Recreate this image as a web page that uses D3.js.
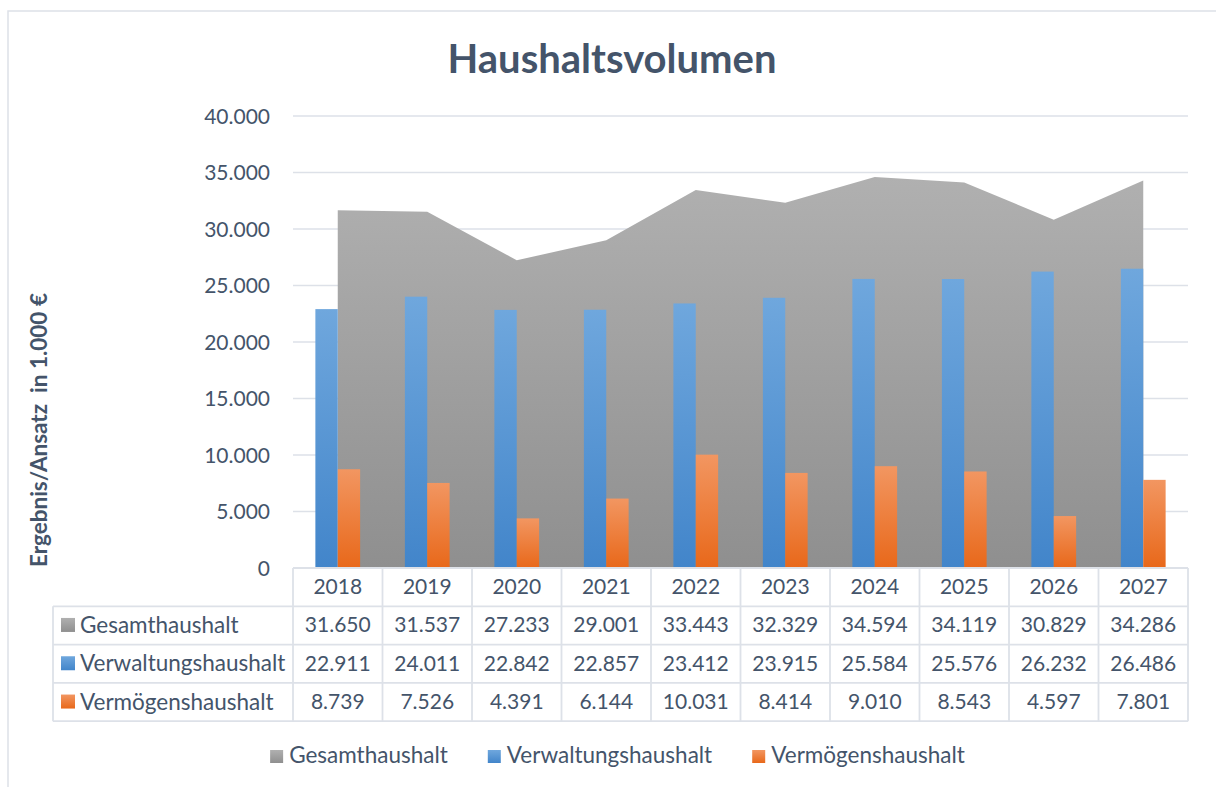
<!DOCTYPE html>
<html>
<head>
<meta charset="utf-8">
<script src="https://cdn.jsdelivr.net/npm/d3@7"></script>
<style>
    body { margin: 0; background: #fff; }
    svg text { font-family: Lato, "Open Sans", sans-serif; fill: #44546a; }
</style>
</head>
<body>
<script>
// Haushaltsvolumen - Excel style area + clustered bars with data table

var years = ["2018", "2019", "2020", "2021", "2022",
             "2023", "2024", "2025", "2026", "2027"];
var gesamt = [31650, 31537, 27233, 29001, 33443, 32329, 34594, 34119, 30829, 34286];
var verwaltung = [22911, 24011, 22842, 22857, 23412, 23915, 25584, 25576, 26232, 26486];
var vermoegen = [8739, 7526, 4391, 6144, 10031, 8414, 9010, 8543, 4597, 7801];
var seriesNames = ["Gesamthaushalt", "Verwaltungshaushalt", "Vermögenshaushalt"];
var yTicks = [0, 5000, 10000, 15000, 20000, 25000, 30000, 35000, 40000];

var W = 1216, H = 787;
var plot = {left: 293, right: 1188, top: 116, bottom: 568};
var rowH = 38.3, labelLeft = 53;
var numSize = "21px", labelSize = "22.5px";

var de = d3.formatLocale({decimal: ",", thousands: ".", grouping: [3], currency: ["", "€"]});
var fmt = de.format(",d");

var svg = d3.select("body").append("svg")
    .attr("width", W)
    .attr("height", H);

// gradients like the office default fills
var defs = svg.append("defs");
function grad(id, top, bottom) {
    var g = defs.append("linearGradient")
        .attr("id", id)
        .attr("x1", 0).attr("y1", 0).attr("x2", 0).attr("y2", 1);
    g.append("stop").attr("offset", "0%").attr("stop-color", top);
    g.append("stop").attr("offset", "100%").attr("stop-color", bottom);
}
grad("gGray", "#b0b0b0", "#8f8f8f");
grad("gBlue", "#6fa7dd", "#4285ca");
grad("gOrange", "#f29661", "#e8681a");
var fills = ["url(#gGray)", "url(#gBlue)", "url(#gOrange)"];

// outer chart frame (runs off the right and bottom of the picture)
svg.append("rect")
    .attr("x", 8).attr("y", 11)
    .attr("width", 1400).attr("height", 1000)
    .attr("fill", "none")
    .attr("stroke", "#dde1e8")
    .attr("stroke-width", 1.5);

var x = d3.scaleBand().domain(years).range([plot.left, plot.right]);
var y = d3.scaleLinear().domain([0, 40000]).range([plot.bottom, plot.top]);
var inner = d3.scaleBand().domain(["v", "m"]).range([0, x.bandwidth()])
    .paddingInner(0).paddingOuter(1);

// gridlines
svg.append("g").selectAll("line")
    .data(yTicks.slice(1))
    .join("line")
    .attr("x1", plot.left).attr("x2", plot.right)
    .attr("y1", function(d) { return y(d); })
    .attr("y2", function(d) { return y(d); })
    .attr("stroke", "#dde1e8")
    .attr("stroke-width", 1.5);

// tick labels
svg.append("g").selectAll("text")
    .data(yTicks)
    .join("text")
    .attr("x", 270)
    .attr("y", function(d) { return y(d) + 7.5; })
    .attr("text-anchor", "end")
    .style("font-size", numSize)
    .text(function(d) { return fmt(d); });

// area Gesamthaushalt
var area = d3.area()
    .x(function(d, i) { return x(years[i]) + x.bandwidth() / 2; })
    .y0(y(0))
    .y1(function(d) { return y(d); });
svg.append("path")
    .datum(gesamt)
    .attr("d", area)
    .attr("fill", fills[0]);

// bars
svg.append("g").selectAll("rect")
    .data(verwaltung)
    .join("rect")
    .attr("x", function(d, i) { return x(years[i]) + inner("v"); })
    .attr("y", function(d) { return y(d); })
    .attr("width", inner.bandwidth())
    .attr("height", function(d) { return y(0) - y(d); })
    .attr("fill", fills[1]);

svg.append("g").selectAll("rect")
    .data(vermoegen)
    .join("rect")
    .attr("x", function(d, i) { return x(years[i]) + inner("m"); })
    .attr("y", function(d) { return y(d); })
    .attr("width", inner.bandwidth())
    .attr("height", function(d) { return y(0) - y(d); })
    .attr("fill", fills[2]);

// title
svg.append("text")
    .attr("x", 612).attr("y", 73)
    .attr("text-anchor", "middle")
    .style("font-size", "40px")
    .style("font-weight", "bold")
    .text("Haushaltsvolumen");

// y axis title
svg.append("text")
    .attr("transform", "translate(47,430) rotate(-90)")
    .attr("text-anchor", "middle")
    .style("font-size", "22.5px")
    .style("font-weight", "bold")
    .style("white-space", "pre")
    .text("Ergebnis/Ansatz  in 1.000 €");

// data table
var table = svg.append("g");
var lineColor = "#dde1e8";
var rowsY = [plot.bottom];
for (var r = 1; r <= 4; r++) rowsY.push(plot.bottom + r * rowH);

rowsY.forEach(function(ry, i) {
    table.append("line")
        .attr("x1", i == 0 ? plot.left : labelLeft).attr("x2", plot.right)
        .attr("y1", ry).attr("y2", ry)
        .attr("stroke", lineColor).attr("stroke-width", 1.8);
});
x.domain().concat(["end"]).forEach(function(yr) {
    var cx = yr == "end" ? plot.right : x(yr);
    table.append("line")
        .attr("x1", cx).attr("x2", cx)
        .attr("y1", plot.bottom).attr("y2", rowsY[4])
        .attr("stroke", lineColor).attr("stroke-width", 1.8);
});
table.append("line")
    .attr("x1", labelLeft).attr("x2", labelLeft)
    .attr("y1", rowsY[1]).attr("y2", rowsY[4])
    .attr("stroke", lineColor).attr("stroke-width", 1.8);

// header years
table.selectAll("text.year")
    .data(years)
    .join("text")
    .attr("class", "year")
    .attr("x", function(d) { return x(d) + x.bandwidth() / 2; })
    .attr("y", rowsY[0] + rowH / 2 + 7)
    .attr("text-anchor", "middle")
    .style("font-size", numSize)
    .text(function(d) { return d; });

var tableData = [gesamt, verwaltung, vermoegen];
tableData.forEach(function(vals, si) {
    var cy = rowsY[si + 1] + rowH / 2;
    table.append("rect")
        .attr("x", 61).attr("y", cy - 7.5)
        .attr("width", 14).attr("height", 14)
        .attr("fill", fills[si]);
    table.append("text")
        .attr("x", 80).attr("y", cy + 7.5)
        .style("font-size", labelSize)
        .text(seriesNames[si]);
    table.selectAll("text.v" + si)
        .data(vals)
        .join("text")
        .attr("class", "v" + si)
        .attr("x", function(d, i) { return x(years[i]) + x.bandwidth() / 2; })
        .attr("y", cy + 7)
        .attr("text-anchor", "middle")
        .style("font-size", numSize)
        .text(function(d) { return fmt(d); });
});

// legend, centred
var legend = svg.append("g");
var items = seriesNames.map(function(name, i) {
    var g = legend.append("g");
    g.append("rect")
        .attr("x", 0).attr("y", -13)
        .attr("width", 13).attr("height", 13)
        .attr("fill", fills[i]);
    var t = g.append("text")
        .attr("x", 19).attr("y", 0)
        .style("font-size", labelSize)
        .text(name);
    return {g: g, w: 19 + t.node().getComputedTextLength()};
});
var gap = 40;
var total = d3.sum(items, function(d) { return d.w; }) + gap * (items.length - 1);
var lx = 617.5 - total / 2;
items.forEach(function(it) {
    it.g.attr("transform", "translate(" + lx + ",763)");
    lx += it.w + gap;
});
</script>
</body>
</html>
